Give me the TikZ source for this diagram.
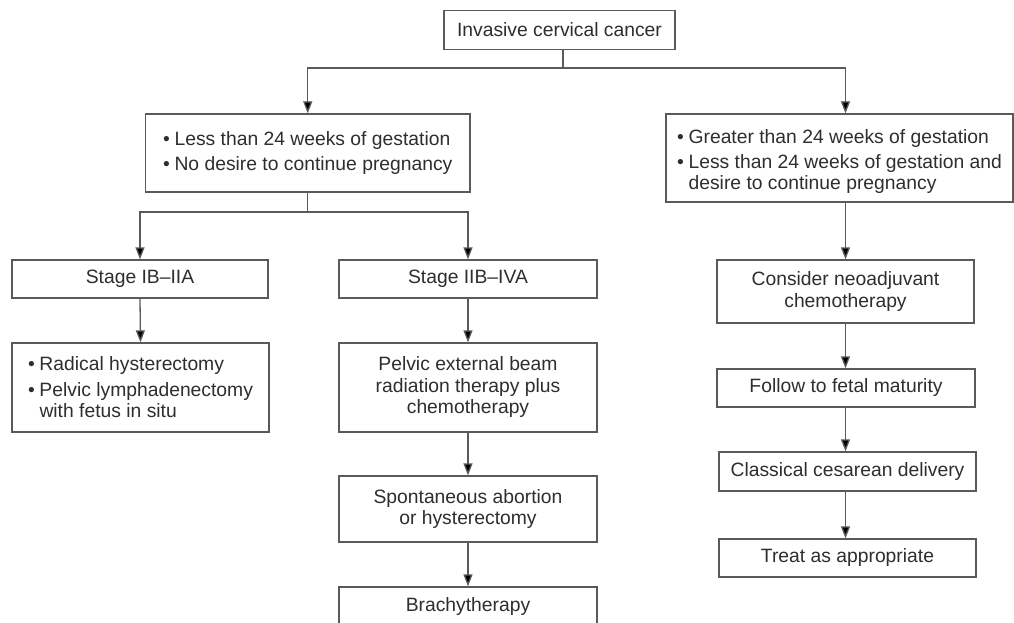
\documentclass[tikz,border=0pt]{standalone}
\usepackage{fontspec}
\setmainfont{Liberation Sans}
\usetikzlibrary{arrows.meta}
\definecolor{ln}{HTML}{5A5A5A}
\definecolor{tx}{HTML}{2E2E2E}
\newcommand{\bul}{\makebox[11.5pt][l]{•}}
\begin{document}
\begin{tikzpicture}[x=1pt,y=-1pt,
 box/.style={draw=ln, line width=1.3pt, inner sep=0pt, font=\fontsize{19.3}{21.5}\selectfont, text=tx},
 arr/.style={draw=ln, line width=1.3pt, -{Triangle[length=12pt,width=9pt,fill=black]}},
 con/.style={draw=ln, line width=1.3pt}]
\useasboundingbox (0,0) rectangle (1014,623);
\fill[white] (0,0) rectangle (1014,623);
% boxes
\node[box, minimum width=231pt, minimum height=38.6pt] (top) at (559.5,30) {Invasive cervical cancer};
\node[box, minimum width=324.5pt, minimum height=78pt, align=left] (L) at (307.75,153)
 {\bul Less than 24 weeks of gestation\\[3pt]\bul No desire to continue pregnancy};
\node[box, minimum width=347pt, minimum height=88pt, align=left] (R) at (839.5,158)
 {\rule{0pt}{22pt}\bul Greater than 24 weeks of gestation\\[3pt]\bul Less than 24 weeks of gestation and\\\hspace*{11.5pt}desire to continue pregnancy};
\node[box, minimum width=256pt, minimum height=38pt] (S1) at (140,279) {Stage IB--IIA};
\node[box, minimum width=258pt, minimum height=38pt] (S2) at (468,279) {Stage IIB--IVA};
\node[box, minimum width=257pt, minimum height=89pt, align=left] (Rad) at (140.5,387.5)
 {\bul Radical hysterectomy\\[4pt]\bul Pelvic lymphadenectomy\\\hspace*{11.5pt}with fetus in situ};
\node[box, minimum width=258pt, minimum height=89pt, align=center] (Pel) at (468,387.5)
 {Pelvic external beam\\radiation therapy plus\\chemotherapy};
\node[box, minimum width=258pt, minimum height=66pt, align=center] (Spo) at (468,509)
 {Spontaneous abortion\\or hysterectomy};
\node[box, minimum width=258pt, minimum height=40pt] (Bra) at (468,607) {Brachytherapy};
\node[box, minimum width=257pt, minimum height=63pt, align=center] (Con) at (845.5,291.5)
 {Consider neoadjuvant\\chemotherapy};
\node[box, minimum width=258pt, minimum height=38pt] (Fol) at (846,388) {Follow to fetal maturity};
\node[box, minimum width=257pt, minimum height=39pt] (Cla) at (847.5,471.5) {Classical cesarean delivery};
\node[box, minimum width=257pt, minimum height=38pt] (Tre) at (847.5,558) {Treat as appropriate};
% connectors
\coordinate (j1) at ([xshift=3.5pt]top.south |- 0,68);
\draw[con] ([xshift=3.5pt]top.south) -- (j1);
\draw[arr] (j1) -| (L.north);
\draw[arr] (j1) -| (Con.north |- R.north);
\coordinate (j2) at (L.south |- 0,212);
\draw[con] (L.south) -- (j2);
\draw[arr] (j2) -| (S1.north);
\draw[arr] (j2) -| (S2.north);
\draw[arr] (S1.south) -- (Rad.north);
\draw[arr] (S2.south) -- (Pel.north);
\draw[arr] (Pel.south) -- (Spo.north);
\draw[arr] (Spo.south) -- (Bra.north);
\draw[arr] (Con.north |- R.south) -- (Con.north);
\draw[arr] (Con.south) -- (Con.south |- Fol.north);
\draw[arr] (Con.south |- Fol.south) -- (Con.south |- Cla.north);
\draw[arr] (Con.south |- Cla.south) -- (Con.south |- Tre.north);
\end{tikzpicture}
\end{document}
